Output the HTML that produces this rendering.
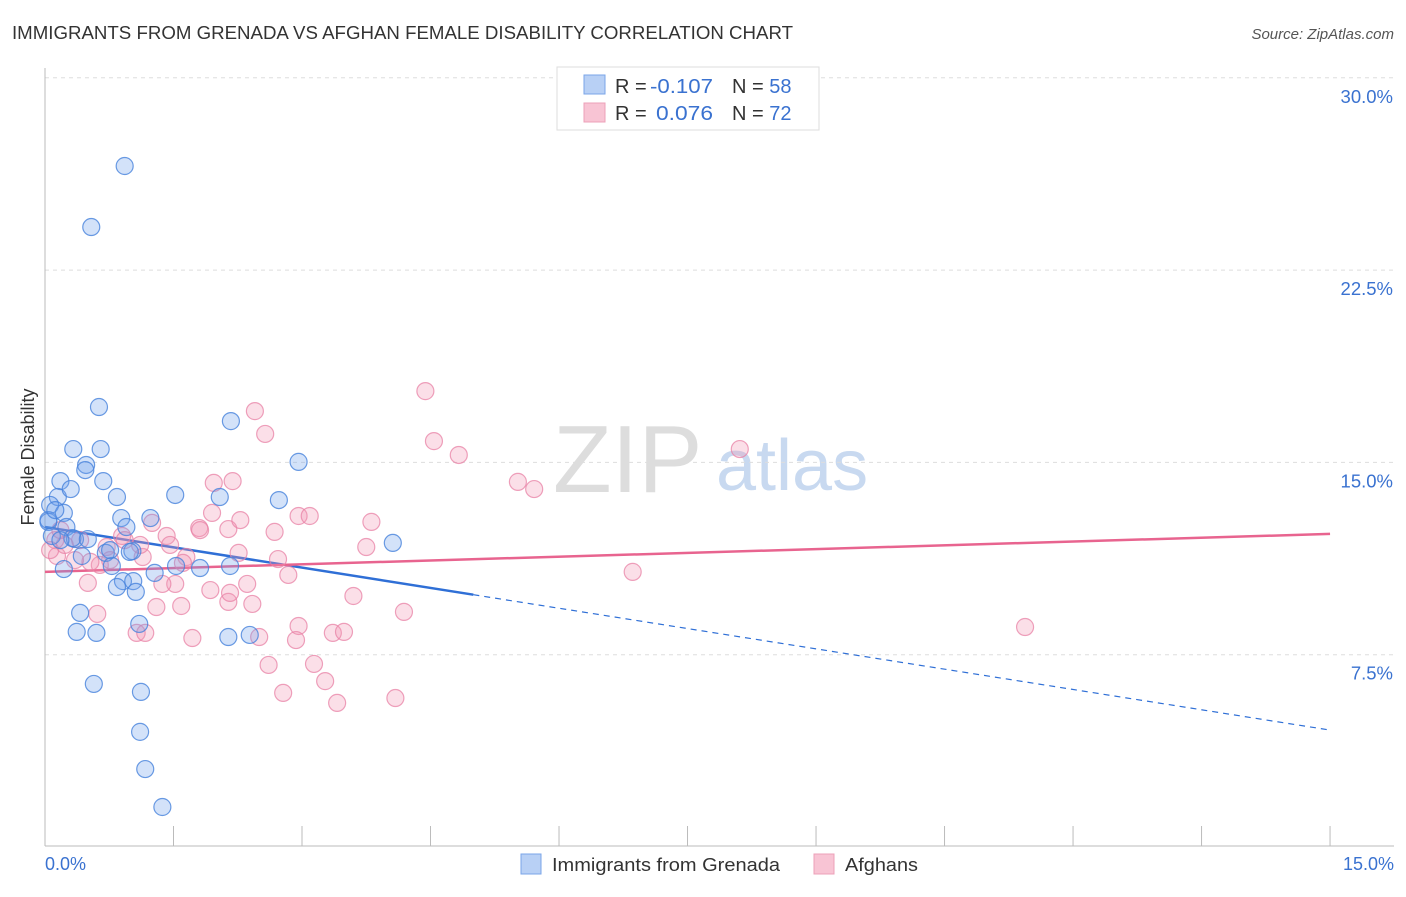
<!DOCTYPE html>
<html><head><meta charset="utf-8"><style>
body{margin:0;background:#fff;font-family:"Liberation Sans",sans-serif;}
svg text{font-family:"Liberation Sans",sans-serif;}
</style></head><body>
<svg id="chart" width="1406" height="892" xmlns="http://www.w3.org/2000/svg">
<text x="12" y="39" font-size="18" fill="#333" textLength="781" lengthAdjust="spacingAndGlyphs">IMMIGRANTS FROM GRENADA VS AFGHAN FEMALE DISABILITY CORRELATION CHART</text>
<text x="1394" y="39" font-size="15" fill="#555" font-style="italic" text-anchor="end">Source: ZipAtlas.com</text>
<g>
<text x="553" y="492" font-size="96" font-family="Liberation Serif,serif" fill="#ddd">ZIP</text>
<text x="716" y="490" font-size="72" fill="#c8d9f0">atlas</text>
</g>
<g id="grid"></g><g id="axes"></g><g id="lines"></g><g id="pts"></g>
<text transform="translate(34,457) rotate(-90)" font-size="18" fill="#333" text-anchor="middle">Female Disability</text>
<g>
<rect x="557" y="67" width="262" height="63" fill="#fff" stroke="#ddd"/>
<rect x="584" y="75" width="21" height="19" fill="#b8d0f5" stroke="#7aa5e8"/>
<rect x="584" y="103" width="21" height="19" fill="#f8c4d4" stroke="#eda0b8"/>
<text x="615" y="93" font-size="20" fill="#333">R = <tspan fill="#3a72d0" x="650" textLength="63" lengthAdjust="spacingAndGlyphs">-0.107</tspan></text>
<text x="732" y="93" font-size="20" fill="#333">N = <tspan fill="#3a72d0">58</tspan></text>
<text x="615" y="120" font-size="20" fill="#333">R = <tspan fill="#3a72d0" x="656" textLength="57" lengthAdjust="spacingAndGlyphs">0.076</tspan></text>
<text x="732" y="120" font-size="20" fill="#333">N = <tspan fill="#3a72d0">72</tspan></text>
</g>
<g>
<rect x="521" y="854" width="20" height="20" fill="#b8d0f5" stroke="#7aa5e8"/>
<text x="552" y="871" font-size="18" fill="#333" textLength="228" lengthAdjust="spacingAndGlyphs">Immigrants from Grenada</text>
<rect x="814" y="854" width="20" height="20" fill="#f8c4d4" stroke="#eda0b8"/>
<text x="845" y="871" font-size="18" fill="#333" textLength="73" lengthAdjust="spacingAndGlyphs">Afghans</text>
</g>
</svg>
<script>
const yTicks=[7.5,15,22.5,30];
const yTickLabels=["7.5%","15.0%","22.5%","30.0%"];
const xEndLabels=["0.0%","15.0%"];
const blueX=[0.93,0.54,0.63,2.17,0.33,0.65,0.48,0.47,2.96,0.18,0.68,0.15,0.30,0.84,1.52,2.04,2.73,0.06,0.22,0.89,1.23,0.04,0.25,0.95,0.08,0.35,0.32,4.06,0.50,0.71,1.02,0.43,0.78,1.53,2.16,0.22,1.28,0.91,1.03,0.84,1.06,0.41,1.10,0.37,0.60,2.14,2.39,0.57,1.12,1.11,1.17,1.37,0.04,0.12,0.76,1.81,0.99,0.18];
const blueY=[26.56,24.18,17.16,16.61,15.52,15.52,14.90,14.70,15.02,14.27,14.27,13.65,13.96,13.65,13.73,13.65,13.53,13.34,13.03,12.83,12.83,12.68,12.48,12.48,12.13,12.01,12.05,11.86,12.01,11.47,11.54,11.35,10.96,10.96,10.96,10.84,10.69,10.37,10.37,10.14,9.95,9.13,8.70,8.39,8.35,8.19,8.27,6.36,6.05,4.49,3.04,1.56,12.75,13.14,11.58,10.88,11.51,11.97];
const pinkX=[4.44,2.45,2.57,4.54,4.83,8.11,1.97,2.19,5.52,5.71,1.95,2.96,3.09,3.81,1.25,1.80,2.14,2.68,1.42,0.90,0.12,0.41,3.75,2.26,0.72,1.14,2.72,1.65,0.64,1.61,0.14,0.53,2.84,6.86,2.36,1.52,1.37,0.50,2.14,2.42,2.16,3.60,1.59,1.30,0.61,4.19,2.96,11.44,1.07,1.17,2.50,2.93,1.72,3.36,3.49,2.61,3.14,3.27,2.78,3.41,4.09,0.06,0.23,0.93,0.76,1.81,1.46,0.18,0.35,1.11,1.93,2.28];
const pinkY=[17.78,17.00,16.11,15.83,15.29,15.52,14.20,14.27,14.24,13.96,13.03,12.91,12.91,12.68,12.64,12.44,12.40,12.29,12.13,12.13,11.97,11.97,11.70,11.47,11.70,11.31,11.23,11.31,11.00,11.08,11.35,11.12,10.61,10.73,10.26,10.26,10.26,10.30,9.56,9.48,9.91,9.79,9.40,9.36,9.09,9.17,8.62,8.58,8.35,8.35,8.19,8.07,8.15,8.35,8.39,7.10,7.14,6.47,6.01,5.62,5.81,11.58,11.78,11.97,11.19,12.36,11.78,12.36,11.19,11.78,10.02,12.75];
const blueTrend=[12.48,-0.528];
const pinkTrend=[10.73,0.0987];
const NS="http://www.w3.org/2000/svg";
const sx=v=>45+v*85.67, sy=v=>847-v*25.64;
function mk(t,a,p){const e=document.createElementNS(NS,t);for(const k in a)e.setAttribute(k,a[k]);p.appendChild(e);return e;}
const grid=document.getElementById('grid'),axes=document.getElementById('axes'),lines=document.getElementById('lines'),pts=document.getElementById('pts');
yTicks.forEach((v,i)=>{
 const g=mk('line',{x1:45,x2:1394,y1:sy(v),y2:sy(v),stroke:'#ddd','stroke-dasharray':'4,4'},grid);
 
 
 const t=mk('text',{x:1393,y:sy(v)+25,'font-size':18.5,fill:'#3a72d0','text-anchor':'end'},axes);
 t.textContent=yTickLabels[i];
 
 
});
const ya=mk('line',{x1:45,x2:45,y1:68,y2:846,stroke:'#bbb'},axes);


const xa=mk('line',{x1:45,x2:1394,y1:846,y2:846,stroke:'#bbb'},axes);


for(let i=0;i<=10;i++){const tk=mk('line',{x1:sx(i*1.5),x2:sx(i*1.5),y1:826,y2:846,stroke:'#bbb'},axes);
 
 }
[[0,'start'],[15,'end']].forEach((d,i)=>{const t=mk('text',{x:i?1394:45,y:870,'font-size':18,fill:'#3a72d0','text-anchor':d[1]},axes);t.textContent=xEndLabels[i];
 
 });
function draw(X,Y,fill,stroke,name){X.forEach((x,i)=>{const c=mk('circle',{cx:sx(x),cy:sy(Y[i]),r:8.5,fill:fill,stroke:stroke,'stroke-width':1.2},pts);
 
 });}
draw(pinkX,pinkY,'rgba(242,150,180,0.3)','rgba(232,130,165,0.75)','afghans-point');
draw(blueX,blueY,'rgba(110,160,235,0.3)','rgba(70,130,220,0.8)','grenada-point');
const ty=(t,x)=>t[0]+t[1]*x;
const b1=mk('line',{x1:sx(0),y1:sy(ty(blueTrend,0)),x2:sx(5),y2:sy(ty(blueTrend,5)),stroke:'#2f6fd6','stroke-width':2.5},lines);


const b2=mk('line',{x1:sx(5),y1:sy(ty(blueTrend,5)),x2:sx(15),y2:sy(ty(blueTrend,15)),stroke:'#2f6fd6','stroke-width':1.2,'stroke-dasharray':'6,5'},lines);


const p1=mk('line',{x1:sx(0),y1:sy(ty(pinkTrend,0)),x2:sx(15),y2:sy(ty(pinkTrend,15)),stroke:'#e8648f','stroke-width':2.5},lines);


</script>
</body></html>
